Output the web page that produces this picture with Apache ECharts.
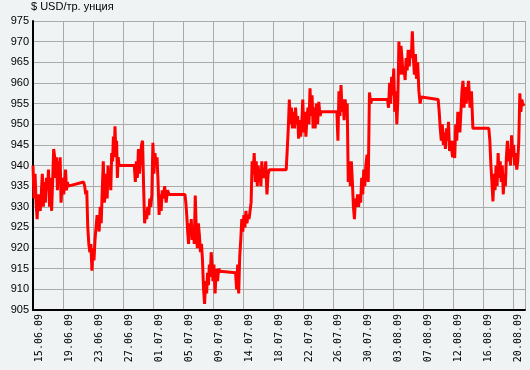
<!DOCTYPE html>
<html><head><meta charset="utf-8">
<script src="https://cdn.jsdelivr.net/npm/echarts/dist/echarts.min.js"></script>
<style>html,body{margin:0;padding:0;background:#f0f3f4;}#c{width:530px;height:370px;}</style>
</head><body><div id="c"></div>
<script>
const titleText = '$ USD/тр. унция';
const tickLabels = ['15.06.09','19.06.09','23.06.09','27.06.09','01.07.09','05.07.09','09.07.09','14.07.09','18.07.09','22.07.09','26.07.09','30.07.09','03.08.09','07.08.09','12.08.09','16.08.09','20.08.09'];
const tickStepDays = 4.145;   // days between labelled ticks
const axisDays = 68;          // 15.06.09 .. 22.08.09
const yTicks = {min: 905, max: 975, step: 5};
// Monday of each week, as days after 15.06.09
const weekStarts = [0, 7, 14, 21, 28, 35, 42, 49, 56, 63];
// intraday prices, Mon..Fri per week
const wk0615 = [[940,932,938,931,927,933,930],[929,933,938,930,936,931,937],[934,939,930,937,929,936,944],[942,937,942,934,941,936,942,931],[935,937,933,936,939,934,936,935]];
const wk0622 = [[936,935,933,934,925,921,919],[921,914.5,920,917,922,925,928],[927,924,930,926,934,941,931],[933,938,932,940,935,939,934,943],[941,947,942,949.5,943,946,937,942,940]];
const wk0629 = [[940,936,941,937,944,938,942],[945,946,935,926,929,927,930],[928,932,930,933,945.5,938,943],[940,942,936,928,933,929,934],[932,935,931,934,933]];
const wk0706 = [[933,931,928,924,921,926,923,927],[922,925,921,932.7,924,920,926],[923,919,921,917,910,906.5,912],[909,914,911,916,913,919,916,912],[916,909,915,912,915,914.4]];
const wk0713 = [[914,910,916,909,918,922,927],[924,928,925,929,926,928,927],[929,931,941,938,943,936,941],[935,940,936,939,935,941,937,938],[937,941,933,938,939,939]];
const wk0720 = [[939,944,949,956,950,954,949],[953,949,954,950,952,946.5,951],[947,950,956,948,953,947,951],[954,950,958.7,952,957,949,954],[949,955,950,955.4,952,953]];
const wk0727 = [[953,946,958,952,959.5,953,956],[951,956,953,955,936,941,935],[941,936,930,927,932,930,933],[930,933,931,937,933,939,935],[940,942.6,936,957.7,955,956]];
const wk0803 = [[956,954,960,955,961.5,957,963.5],[953,958,950,956,970,962,969],[966,962,964,960.7,966,963,968],[964,968,966,972.5,966,962,967],[961,965,958,955,956.6,956.6]];
const wk0810 = [[956,953,949,946,950,945,948],[944,949,946,950.6,943.5,946,944],[942,946,941.8,950,946,953,951],[948,953,958,960.5,954,959,955],[957,960.5,954,958,949]];
const wk0817 = [[949,946,940,936,931.3,938,934],[940,935,943,937,941,936,940],[933,938,935,942,946,941,944],[940,947.3,942,945,940,943,939],[941,946,957.5,953,956,954.5,955]];
const weeks = [wk0615, wk0622, wk0629, wk0706, wk0713, wk0720, wk0727, wk0803, wk0810, wk0817];

const seriesData = [];
weeks.forEach((wk, w) => wk.forEach((day, d) => day.forEach((v, i) => {
  seriesData.push([weekStarts[w] + d + i / day.length, v]);
})));

const chart = echarts.init(document.getElementById('c'), null, {renderer: 'canvas'});
chart.setOption({
  animation: false,
  backgroundColor: '#f0f3f4',
  title: {text: titleText, left: 31, top: 1, padding: 0,
    textStyle: {fontSize: 11, fontWeight: 'normal', color: '#000', fontFamily: 'Liberation Sans, Arial, sans-serif'}},
  grid: {left: 33, right: 5, top: 21, bottom: 60, containLabel: false, outerBoundsMode: 'none'},
  xAxis: {
    type: 'value', min: 0, max: axisDays, interval: tickStepDays,
    axisLine: {show: true, onZero: false, lineStyle: {color: '#000', width: 2}},
    axisTick: {show: false},
    splitLine: {show: true, lineStyle: {color: '#aaaaaa', width: 1}},
    axisLabel: {
      rotate: 90, margin: 4, fontSize: 10, color: '#000', fontFamily: 'DejaVu Sans Mono, monospace',
      verticalAlign: 'top', padding: [1, 0, 0, 0],
      showMaxLabel: false, hideOverlap: false,
      formatter: v => {
        const k = Math.round(v / tickStepDays);
        return Math.abs(v - k * tickStepDays) < 0.01 && tickLabels[k] ? tickLabels[k] : '';
      }
    }
  },
  yAxis: {
    type: 'value', min: yTicks.min, max: yTicks.max, interval: yTicks.step,
    axisLine: {show: true, lineStyle: {color: '#000', width: 2}},
    axisTick: {show: false},
    splitLine: {show: true, lineStyle: {color: '#aaaaaa', width: 1}},
    axisLabel: {margin: 4, fontSize: 11, color: '#000', fontFamily: 'Liberation Sans, Arial, sans-serif'}
  },
  series: [{
    type: 'line', data: seriesData, showSymbol: false, symbol: 'none',
    lineStyle: {color: '#ff0000', width: 3}, clip: true
  }]
});
</script>
</body></html>
